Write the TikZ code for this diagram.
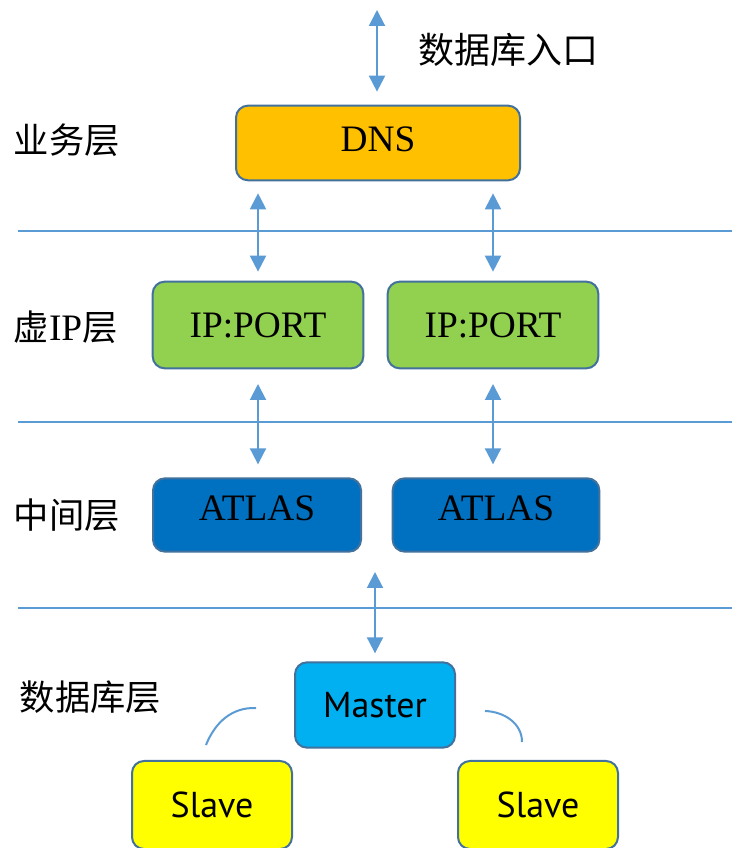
\documentclass[tikz,border=0pt]{standalone}
\usepackage{fontspec}
\setmainfont{Liberation Serif}
\newfontfamily\cjk{Noto Sans CJK SC}
\newfontfamily\boxsans{PT Sans}
\usetikzlibrary{arrows.meta}
\usetikzlibrary{positioning}

\definecolor{linkblue}{HTML}{5B9BD5}
\definecolor{edgeblue}{HTML}{41719C}
\definecolor{dnsfill}{HTML}{FFC000}
\definecolor{ipfill}{HTML}{92D050}
\definecolor{atlasfill}{HTML}{0070C0}
\definecolor{masterfill}{HTML}{00B0F0}
\definecolor{slavefill}{HTML}{FFFF00}

\begin{document}
\begin{tikzpicture}[x=0.75pt,y=0.75pt,>={Triangle[width=12pt,length=12pt]},
                box/.style={rectangle,rounded corners=9pt,draw=edgeblue,line width=1.5pt,
                    inner sep=0pt,font=\fontsize{28}{30}\selectfont},
                db box/.style={box,minimum width=120pt,font=\boxsans\fontsize{27}{29}\selectfont},
                layer/.style={anchor=west,font=\cjk\fontsize{26.5}{28}\selectfont},
                link/.style={<->,draw=linkblue,line width=1.5pt},
                sync/.style={draw=linkblue,line width=1.5pt},
                sep line/.style={draw=linkblue,line width=1.5pt}]

        \useasboundingbox[fill=white] (0,0) rectangle (732,848);

        % layer names
        \node[layer] (biz)   at (9,708) {业务层};
        \node[layer] (vip)   at (9,521) {虚{\rmfamily\fontsize{28}{30}\selectfont IP}层};
        \node[layer] (mid)   at (9,333) {中间层};
        \node[layer] (dblay) at (15,151) {数据库层};
        \node[layer,font=\cjk\fontsize{27}{29}\selectfont] (entrytxt) at (414,798) {数据库入口};

        % boxes
        \node[box,fill=dnsfill,minimum width=213pt,minimum height=56pt,text depth=6pt] (dns) at (378,705) {DNS};
        \node[box,fill=ipfill,minimum width=158pt,minimum height=65pt] (ip1) at (258,523) {IP:PORT};
        \node[box,fill=ipfill,minimum width=158pt,minimum height=65pt] (ip2) at (493,523) {IP:PORT};
        \node[box,fill=atlasfill,minimum width=156pt,minimum height=55pt,text depth=10pt] (atlas1) at (257,333) {ATLAS};
        \node[box,fill=atlasfill,minimum width=155pt,minimum height=55pt,text depth=10pt] (atlas2) at (496,333) {ATLAS};
        \node[db box,fill=masterfill,minimum height=64pt] (master) at (375,143) {Master};
        \node[db box,fill=slavefill,minimum height=66pt] (slave1) at (212,43) {Slave};
        \node[db box,fill=slavefill,minimum height=66pt] (slave2) at (538,43) {Slave};

        % layer borders
        \draw[sep line] (18,617) -- (732,617);
        \draw[sep line] (18,426) -- (732,426);
        \draw[sep line] (18,240) -- (732,240);

        \coordinate (entry) at (377,838);
        \coordinate (hub) at (375,276);
        \coordinate (arcL1) at (206,103);
        \coordinate (arcL2) at (256,140);
        \coordinate (arcR1) at (485,137);
        \coordinate (arcR2) at (522,106);

          \path
            (entry) edge [link,shorten >=9.75pt] (entry |- dns.north)
            (dns.south -| ip1.north) edge [link,shorten <=9pt,shorten >=6.75pt] (ip1.north)
            (dns.south -| ip2.north) edge [link,shorten <=9pt,shorten >=6.75pt] (ip2.north)
            (ip1.south) edge [link,shorten <=11pt,shorten >=9.75pt] (ip1.south |- atlas1.north)
            (ip2.south) edge [link,shorten <=11pt,shorten >=9.75pt] (ip2.south |- atlas2.north)
            (hub)       edge [link,shorten >=6pt] (master.north);

        \draw[sync] (arcL1) to[out=68,in=178] (arcL2);
        \draw[sync] (arcR1) to[out=-2,in=90] (arcR2);
\end{tikzpicture}
\end{document}
